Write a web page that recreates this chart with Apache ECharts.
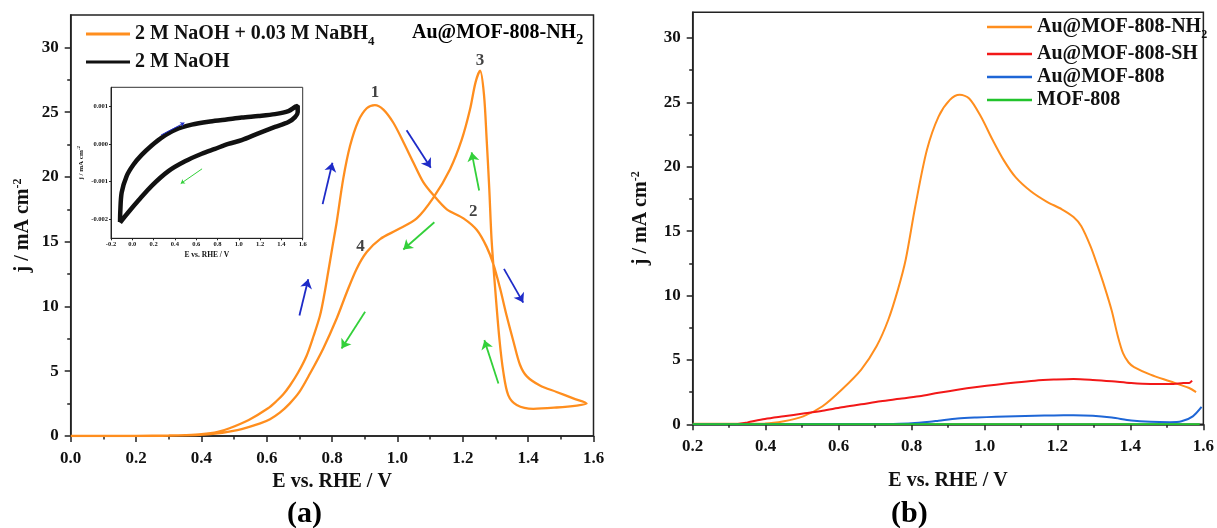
<!DOCTYPE html>
<html><head><meta charset="utf-8">
<script src="https://cdn.jsdelivr.net/npm/echarts@6/dist/echarts.min.js"></script>
<style>html,body{margin:0;padding:0;background:#fff}#c{width:1217px;height:528px}</style>
</head><body><div id="c"></div>
<script>
const FONT = "'Liberation Serif','Times New Roman',serif";

// ---------- Panel (a): CV, 2 M NaOH + 0.03 M NaBH4 (forward then reverse scan) ----------
const cvE = [0.00,0.10,0.20,0.30,0.35,0.40,0.45,0.486,0.545,0.604,0.63,0.65,0.671,0.696,0.722,0.743,0.763,0.776,0.788,0.801,0.814,0.834,0.855,0.88,0.906,0.931,0.957,0.987,1.018,1.049,1.079,1.11,1.151,1.202,1.243,1.273,1.293,1.314,1.334,1.355,1.375,1.396,1.436,1.487,1.538,1.579,
  1.549,1.487,1.416,1.365,1.339,1.324,1.312,1.299,1.288,1.281,1.273,1.265,1.253,1.239,1.222,1.197,1.161,1.11,1.059,0.998,0.947,0.906,0.875,0.845,0.814,0.773,0.732,0.70,0.67,0.64,0.61,0.58,0.51,0.428,0.31,0.15,0.00];
const cvJ = [0.00,0.00,0.01,0.04,0.07,0.14,0.32,0.6,1.24,2.14,2.7,3.2,3.9,4.9,6.2,7.7,9.3,10.9,12.66,14.6,16.5,19.85,22.4,24.3,25.3,25.55,25.2,24.2,22.7,21.1,19.6,18.6,17.5,16.8,15.9,14.6,13.3,11.4,9.3,7.3,5.5,4.6,3.9,3.4,2.9,2.5,
  2.35,2.2,2.1,2.4,3.16,4.95,7.5,11.4,15.2,19.1,22.9,26.3,28.2,27.3,25.2,22.9,20.6,18.4,16.8,15.9,15.2,14.2,12.9,11.1,9.07,6.76,4.8,3.4,2.5,1.8,1.3,0.98,0.46,0.15,0.03,0.0,0.0];

// Inset: CV in 2 M NaOH
const insetE = [-0.115,-0.113,-0.1,-0.053,0.01,0.088,0.182,0.276,0.401,0.558,0.714,0.871,1.027,1.184,1.34,1.466,1.534,1.553,
  1.553,1.528,1.466,1.34,1.184,1.027,0.902,0.777,0.652,0.495,0.339,0.182,0.057,-0.037,-0.1,-0.115];
const insetJ = [-0.00207,-0.00181,-0.00129,-0.00085,-0.00055,-0.00029,-0.00004,0.00017,0.00037,0.00051,0.00059,0.00064,0.0007,0.00074,0.00079,0.00087,0.00099,0.00101,
  0.00084,0.00071,0.00058,0.00045,0.00028,0.0001,0.0,-0.00013,-0.00026,-0.00046,-0.00072,-0.00111,-0.0015,-0.00181,-0.00203,-0.00209];

// Scan-direction arrows (start, end) in data units
const blueArrowsA = [[[0.771,17.9],[0.801,21.1]],[[1.028,23.6],[1.102,20.7]],[[0.70,9.3],[0.727,12.1]],[[1.326,12.9],[1.385,10.3]]];
const greenArrowsA = [[[1.25,18.95],[1.227,21.9]],[[1.113,16.5],[1.018,14.4]],[[0.901,9.6],[0.829,6.75]],[[1.309,4.06],[1.266,7.4]]];
const blueArrowsInset = [[[0.27,0.000235],[0.489,0.00056]]];
const greenArrowsInset = [[[0.655,-0.00066],[0.455,-0.00105]]];
// Peak labels
const peakNames = ['1','2','3','4'];
const peakE = [0.931,1.232,1.253,0.887];
const peakJ = [26.5,17.3,29.0,14.6];

// ---------- Panel (b): LSV ----------
const nh2E = [0.2,0.3,0.398,0.45,0.503,0.556,0.609,0.662,0.704,0.736,0.763,0.784,0.81,0.842,0.874,0.905,0.932,0.958,0.99,1.022,1.053,1.085,1.127,1.17,1.212,1.244,1.265,1.291,1.31,1.33,1.349,1.365,1.38,1.395,1.41,1.455,1.508,1.561,1.58];
const nh2J = [0.05,0.05,0.06,0.23,0.62,1.4,2.7,4.25,6.06,8.1,10.5,12.8,16.9,21.3,23.9,25.2,25.6,25.3,23.9,22.1,20.5,19.2,18.1,17.3,16.7,16.1,15.4,13.8,12.3,10.6,8.8,6.9,5.5,4.8,4.45,3.86,3.34,2.82,2.5];
const shE = [0.32,0.35,0.398,0.45,0.503,0.556,0.609,0.662,0.715,0.768,0.821,0.874,0.926,0.979,1.032,1.085,1.138,1.19,1.244,1.297,1.349,1.402,1.455,1.508,1.545,1.561,1.569];
const shJ = [0.0,0.15,0.41,0.62,0.83,1.05,1.32,1.55,1.79,1.98,2.18,2.45,2.69,2.9,3.08,3.25,3.39,3.47,3.52,3.45,3.34,3.2,3.13,3.13,3.2,3.21,3.39];
const auE = [0.2,0.5,0.7,0.75,0.8,0.85,0.874,0.926,0.979,1.032,1.085,1.138,1.19,1.244,1.297,1.349,1.402,1.455,1.508,1.54,1.571,1.595];
const auJ = [0,0,0.01,0.03,0.08,0.2,0.28,0.45,0.53,0.58,0.62,0.66,0.69,0.7,0.66,0.52,0.3,0.19,0.16,0.23,0.62,1.35];
const mofE = [0.2,0.6,1.0,1.4,1.59];
const mofJ = [0,0,0,0,0];

// Tick values
const xTicksA = [0,0.2,0.4,0.6,0.8,1.0,1.2,1.4,1.6];
const xMinorA = [0.1,0.3,0.5,0.7,0.9,1.1,1.3,1.5];
const yTicks = [0,5,10,15,20,25,30];
const yMinor = [2.5,7.5,12.5,17.5,22.5,27.5];
const xTicksB = [0.2,0.4,0.6,0.8,1.0,1.2,1.4,1.6];
const xMinorB = [0.3,0.5,0.7,0.9,1.1,1.3,1.5];
const xTicksInset = [-0.2,0,0.2,0.4,0.6,0.8,1.0,1.2,1.4,1.6];
const yTicksInset = [-0.002,-0.001,0,0.001];

const pairs = (xs, ys) => xs.map((x, i) => [x, ys[i]]);
const C_OR = '#FF8E1E', C_RED = '#F21818', C_BLUE = '#1E66D6', C_GREEN = '#22C32C';
const ARW_BLUE = '#1E2BC8', ARW_GREEN = '#33D03A';
const AX = '#222';

const txt = (size) => ({fontSize: size, fontWeight: 'bold', fontFamily: FONT, color: '#111'});
const rich = (m, s, lh) => ({
  m: Object.assign(txt(m), {lineHeight: lh}),
  s: Object.assign(txt(s), {lineHeight: s, verticalAlign: 'top', padding: [lh - s + 3, 0, 0, 0]}),
  p: Object.assign(txt(s), {lineHeight: s, verticalAlign: 'top', padding: [0, 0, lh - s, 0]})
});

function majorX(grid, min, max, ticks, name, gap, fs, nfs, margin, tl, lw) {
  return {gridIndex: grid, type: 'value', min, max, position: 'bottom',
    axisLine: {show: true, onZero: false, lineStyle: {color: AX, width: lw}},
    axisTick: {show: true, length: tl, customValues: ticks, lineStyle: {color: AX, width: lw}},
    axisLabel: Object.assign({customValues: ticks, margin, formatter: v => v.toFixed(1)}, txt(fs)),
    splitLine: {show: false},
    name, nameLocation: 'middle', nameGap: gap, nameTextStyle: txt(nfs)};
}
function minorX(grid, min, max, ticks) {
  return {gridIndex: grid, type: 'value', min, max, position: 'bottom',
    axisLine: {show: false, onZero: false}, axisLabel: {show: false}, splitLine: {show: false},
    axisTick: {show: true, length: 3.5, customValues: ticks, lineStyle: {color: AX, width: 1.5}}};
}
function majorY(grid, min, max, ticks, gap, fs, nfs, margin, tl, lw, fmt, sfs) {
  return {gridIndex: grid, type: 'value', min, max, position: 'left',
    axisLine: {show: true, onZero: false, lineStyle: {color: AX, width: lw}},
    axisTick: {show: true, length: tl, customValues: ticks, lineStyle: {color: AX, width: lw}},
    axisLabel: Object.assign({customValues: ticks, margin, formatter: fmt}, txt(fs)),
    splitLine: {show: false},
    name: '{m|j / mA cm}{p|-2}', nameLocation: 'middle', nameGap: gap,
    nameTextStyle: {rich: rich(nfs, sfs, nfs + 3)}};
}
function minorY(grid, min, max, ticks) {
  return {gridIndex: grid, type: 'value', min, max, position: 'left',
    axisLine: {show: false, onZero: false}, axisLabel: {show: false}, splitLine: {show: false},
    axisTick: {show: true, length: 3.5, customValues: ticks, lineStyle: {color: AX, width: 1.5}}};
}
function arrows(list, color, xi, yi, w, size) {
  return {type: 'lines', coordinateSystem: 'cartesian2d', xAxisIndex: xi, yAxisIndex: yi, z: 5,
    symbol: ['none', 'arrow'], symbolSize: size, silent: true,
    lineStyle: {color, width: w, opacity: 1, curveness: 0},
    data: list.map(a => ({coords: a}))};
}
function line(name, xs, ys, color, xi, yi, w) {
  return {name, type: 'line', xAxisIndex: xi, yAxisIndex: yi, data: pairs(xs, ys),
    showSymbol: false, symbol: 'none', smooth: 0.3, color,
    lineStyle: {color, width: w}, itemStyle: {color}};
}

const chart = echarts.init(document.getElementById('c'), null, {renderer: 'canvas'});
chart.setOption({
  animation: false,
  textStyle: {fontFamily: FONT},
  grid: [
    {left: 70.7, top: 15, width: 522.8, height: 421, show: true, borderColor: AX, borderWidth: 1.5},
    {left: 111, top: 87.3, width: 191.7, height: 151, show: true, borderColor: '#333', borderWidth: 1, backgroundColor: '#fff'},
    {left: 692.7, top: 12.3, width: 512.6, height: 412, show: true, borderColor: AX, borderWidth: 1.5}
  ],
  xAxis: [
    majorX(0, 0, 1.6, xTicksA, 'E vs. RHE / V', 26, 17, 20, 14, 6, 1.5),
    minorX(0, 0, 1.6, xMinorA),
    majorX(1, -0.2, 1.6, xTicksInset, 'E vs. RHE / V', 13, 6.5, 7.5, 3, 2, 1),
    majorX(2, 0.2, 1.6, xTicksB, 'E vs. RHE / V', 47, 17, 20, 14, 6, 1.5),
    minorX(2, 0.2, 1.6, xMinorB)
  ],
  yAxis: [
    majorY(0, 0, 32.5, yTicks, 36, 17, 20, 12, 6, 1.5, v => String(v), 12),
    minorY(0, 0, 32.5, yMinor),
    majorY(1, -0.0025, 0.0015, yTicksInset, 25, 6.5, 7, 3, 2, 1, v => v.toFixed(3), 5),
    majorY(2, 0, 32, yTicks, 40, 17, 20, 12, 6, 1.5, v => String(v), 12),
    minorY(2, 0, 32, yMinor)
  ],
  legend: [
    {data: ['2 M NaOH + 0.03 M NaBH4', '2 M NaOH'], orient: 'vertical', left: 86, top: 23, padding: 0,
      itemWidth: 44, itemHeight: 3, itemGap: 4, icon: 'rect',
      formatter: n => n.endsWith('NaBH4') ? '{m|2 M NaOH + 0.03 M NaBH}{s|4}' : '{m|2 M NaOH}',
      textStyle: {rich: rich(20, 13, 22)}},
    {data: ['Au@MOF-808-NH2', 'Au@MOF-808-SH', 'Au@MOF-808', 'MOF-808'], orient: 'vertical', left: 987, top: 16, padding: 0,
      itemWidth: 45, itemHeight: 2.5, itemGap: 3, icon: 'rect',
      formatter: n => n.endsWith('NH2') ? '{m|Au@MOF-808-NH}{s|2}' : '{m|' + n + '}',
      textStyle: {rich: rich(20, 12, 22)}}
  ],
  graphic: [
    {type: 'text', left: 412, top: 22, z: 10, style: {text: '{m|Au@MOF-808-NH}{s|2}', rich: rich(20, 14, 22)}},
    {type: 'text', left: 287, top: 499, z: 10, style: Object.assign({text: '(a)'}, txt(30))},
    {type: 'text', left: 891, top: 499, z: 10, style: Object.assign({text: '(b)'}, txt(30))}
  ],
  series: [
    line('2 M NaOH + 0.03 M NaBH4', cvE, cvJ, C_OR, 0, 0, 2.3),
    line('2 M NaOH', insetE, insetJ, '#111', 2, 2, 4.5),
    arrows(blueArrowsA, ARW_BLUE, 0, 0, 1.8, 9),
    arrows(greenArrowsA, ARW_GREEN, 0, 0, 1.8, 9),
    arrows(blueArrowsInset, ARW_BLUE, 2, 2, 1, 4),
    arrows(greenArrowsInset, ARW_GREEN, 2, 2, 1, 4),
    {type: 'scatter', xAxisIndex: 0, yAxisIndex: 0, symbolSize: 0, silent: true,
      data: peakNames.map((n, i) => ({name: n, value: [peakE[i], peakJ[i]]})),
      label: Object.assign({show: true, position: 'inside', formatter: '{b}'}, txt(17))},
    line('Au@MOF-808-NH2', nh2E, nh2J, C_OR, 3, 3, 2),
    line('Au@MOF-808-SH', shE, shJ, C_RED, 3, 3, 2),
    line('Au@MOF-808', auE, auJ, C_BLUE, 3, 3, 2),
    line('MOF-808', mofE, mofJ, C_GREEN, 3, 3, 2)
  ]
});
</script></body></html>
